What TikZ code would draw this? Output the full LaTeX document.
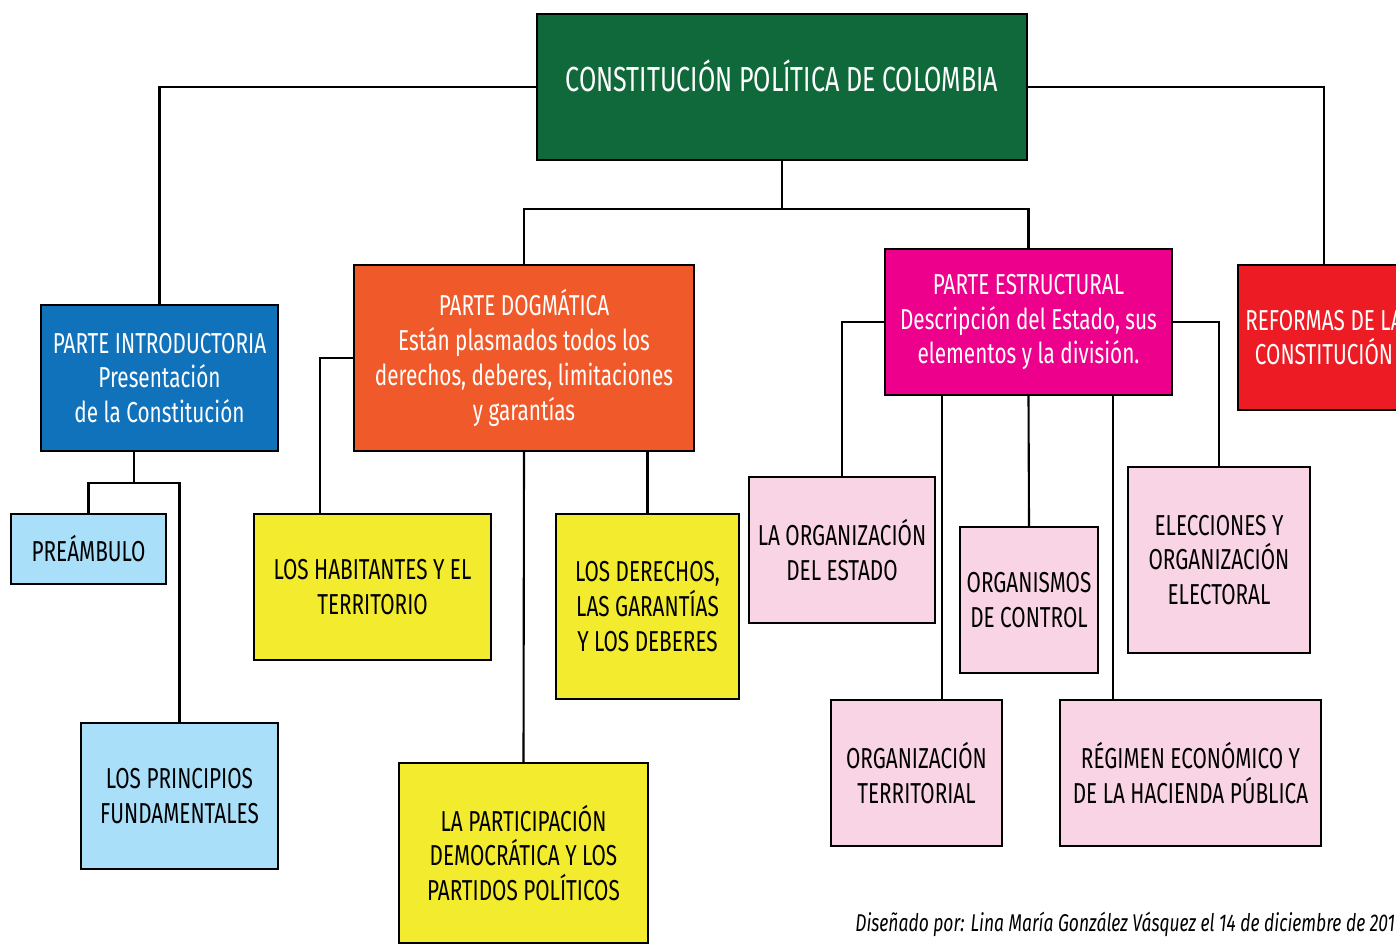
\documentclass[tikz,border=0pt]{standalone}
\usepackage{fontspec}
\setmainfont{Fira Sans}[FakeStretch=0.72]

\definecolor{rootgreen}{RGB}{16,105,58}
\definecolor{introblue}{RGB}{17,114,188}
\definecolor{dogorange}{RGB}{240,90,42}
\definecolor{estmagenta}{RGB}{236,0,140}
\definecolor{refred}{RGB}{237,28,36}
\definecolor{itemblue}{RGB}{169,223,249}
\definecolor{itemyellow}{RGB}{242,235,46}
\definecolor{itempink}{RGB}{249,212,228}

\begin{document}
\begin{tikzpicture}[x=0.02cm, y=-0.02cm,
    part/.style={rectangle, draw=black, line width=1.3pt, align=center, inner sep=0pt, text=white, font=\fontsize{16.4}{19.8}\selectfont},
    item/.style={part, text=black},
    link/.style={line width=1.2pt}
]

% Page frame
\useasboundingbox (0,0) rectangle (1396,944);
\fill[white] (0,0) rectangle (1396,944);

% Root
\node[part, fill=rootgreen, minimum width=9.8cm, minimum height=2.92cm, text depth=0.45cm, font=\fontsize{19.8}{23}\selectfont] (root) at (782,87) {CONSTITUCIÓN POLÍTICA DE COLOMBIA};

% Main parts
\node[part, fill=introblue, minimum width=4.74cm, minimum height=2.92cm] (intro) at (159.5,378) {PARTE INTRODUCTORIA\\Presentación\\de la Constitución};
\node[part, fill=dogorange, minimum width=6.8cm, minimum height=3.72cm] (dog) at (524,358) {PARTE DOGMÁTICA\\Están plasmados todos los\\derechos, deberes, limitaciones\\y garantías};
\node[part, fill=estmagenta, minimum width=5.74cm, minimum height=2.92cm] (est) at (1028.5,322) {PARTE ESTRUCTURAL\\Descripción del Estado, sus\\elementos y la división.};
\node[part, fill=refred, minimum width=3.44cm, minimum height=2.9cm] (ref) at (1324,337.5) {REFORMAS DE LA\\CONSTITUCIÓN};

% Introductoria items
\node[item, fill=itemblue, minimum width=3.1cm, minimum height=1.4cm] (pream) at (88.5,549) {PREÁMBULO};
\node[item, fill=itemblue, minimum width=3.94cm, minimum height=2.92cm] (princ) at (179.5,796) {LOS PRINCIPIOS\\FUNDAMENTALES};

% Dogmatica items
\node[item, fill=itemyellow, minimum width=4.74cm, minimum height=2.92cm] (habit) at (372.5,587) {LOS HABITANTES Y EL\\TERRITORIO};
\node[item, fill=itemyellow, minimum width=3.66cm, minimum height=3.7cm] (der) at (647.5,606.5) {LOS DERECHOS,\\LAS GARANTÍAS\\Y LOS DEBERES};
\node[item, fill=itemyellow, minimum width=4.98cm, minimum height=3.6cm] (partic) at (523.5,853) {LA PARTICIPACIÓN\\DEMOCRÁTICA Y LOS\\PARTIDOS POLÍTICOS};

% Estructural items
\node[item, fill=itempink, minimum width=3.72cm, minimum height=2.92cm] (orgest) at (842,550) {LA ORGANIZACIÓN\\DEL ESTADO};
\node[item, fill=itempink, minimum width=2.76cm, minimum height=2.92cm] (organ) at (1029,600) {ORGANISMOS\\DE CONTROL};
\node[item, fill=itempink, minimum width=3.64cm, minimum height=3.72cm] (elec) at (1219,560) {ELECCIONES Y\\ORGANIZACIÓN\\ELECTORAL};
\node[item, fill=itempink, minimum width=3.42cm, minimum height=2.92cm] (orgterr) at (916.5,773) {ORGANIZACIÓN\\TERRITORIAL};
\node[item, fill=itempink, minimum width=5.22cm, minimum height=2.92cm] (regimen) at (1190.5,773) {RÉGIMEN ECONÓMICO Y\\DE LA HACIENDA PÚBLICA};

% Credit line
\node[anchor=west, inner sep=0pt, font=\itshape\fontsize{13.8}{16}\selectfont] (credit) at (855,924) {Diseñado por: Lina María González Vásquez el 14 de diciembre de 201};

% Branch points
\coordinate (rootfork) at (782,209);
\coordinate (introfork) at (134,483);
\coordinate (habitdrop) at (320,514);
\coordinate (terrdrop) at (942,700);
\coordinate (regdrop) at (1113,700);

% Connections
\draw[link] (root.west) -| (intro.north);
\draw[link] (root.east) -| (ref.north);
\draw[link] (root.south) -- (rootfork);
\draw[link] (dog.north) |- (rootfork) -| (est.north);

\draw[link] (introfork |- intro.south) -- (introfork);
\draw[link] (pream.north) |- (introfork) -| (princ.north);

\draw[link] (dog.west) -| (habitdrop);
\draw[link] (dog.south) -- (partic.north);
\draw[link] (dog.south -| der.north) -- (der.north);

\draw[link] (est.west) -| (orgest.north);
\draw[link] (est.east) -| (elec.north);
\draw[link] (est.south) -- (organ.north);
\draw[link] (terrdrop |- est.south) -- (terrdrop);
\draw[link] (regdrop |- est.south) -- (regdrop);

\end{tikzpicture}
\end{document}
